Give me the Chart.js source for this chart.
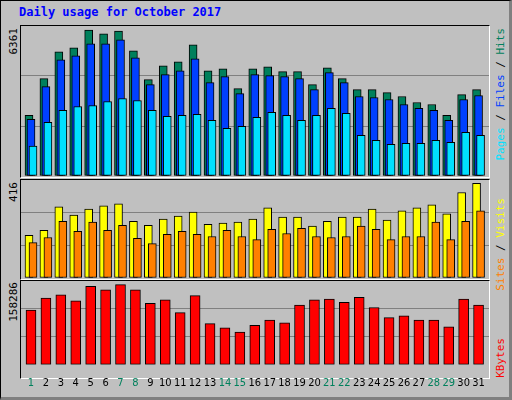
<!DOCTYPE html>
<html><head><meta charset="utf-8">
<script src="https://cdn.jsdelivr.net/npm/chart.js@4/dist/chart.umd.min.js"></script>
<style>
body{margin:0;background:#fff;}
#frame{position:absolute;left:0;top:0;width:508px;height:396px;background:#C0C0C0;border:1px solid #000;border-right:3px solid #808080;border-bottom:3px solid #808080;}
.panel{position:absolute;left:20px;width:468px;border-top:1px solid #000;border-left:1px solid #000;border-right:1px solid #fff;border-bottom:1px solid #fff;}
canvas{position:absolute;}
.t{position:absolute;font-family:"DejaVu Sans Mono",monospace;font-size:11px;white-space:nowrap;}
.v{writing-mode:vertical-rl;transform:rotate(180deg);}
</style></head><body>
<div id="frame"></div>
<div class="t" style="left:19px;top:5px;color:#0000FF;font-weight:bold;font-size:12px;">Daily usage for October 2017</div>
<div class="panel" style="top:25px;height:151px;"></div>
<div class="panel" style="top:179px;height:99px;"></div>
<div class="panel" style="top:280px;height:97px;"></div>
<div class="t v" style="left:7px;top:28px;color:#000;">6361</div>
<div class="t v" style="left:7px;top:182px;color:#000;">416</div>
<div class="t v" style="left:7px;top:282px;color:#000;">158286</div>
<div class="t v" style="left:494px;top:28px;"><span style="color:#00E0FF">Pages</span><span style="color:#000"> / </span><span style="color:#0040FF">Files</span><span style="color:#000"> / </span><span style="color:#00805C">Hits</span></div>
<div class="t v" style="left:494px;top:198px;"><span style="color:#FF8000">Sites</span><span style="color:#000"> / </span><span style="color:#FFFF00">Visits</span></div>
<div class="t v" style="left:494px;top:338px;color:#FF0000;">KBytes</div>
<canvas id="c1" style="left:21px;top:26px;width:468px;height:150px;"></canvas>
<canvas id="c2" style="left:21px;top:180px;width:468px;height:98px;"></canvas>
<canvas id="c3" style="left:21px;top:281px;width:468px;height:119px;"></canvas>
<script>
const days=[1,2,3,4,5,6,7,8,9,10,11,12,13,14,15,16,17,18,19,20,21,22,23,24,25,26,27,28,29,30,31];
const weekendDays=[1,7,8,14,15,21,22,28,29];
const hits=[2570,4128,5266,5434,6193,6024,6150,5308,4086,4676,4844,5561,4465,4550,3707,4550,4634,4423,4423,3876,4592,4128,3665,3665,3539,3370,3117,3033,2570,3454,3665];
const files=[2401,3791,4929,5097,5603,5603,5771,5013,3876,4297,4465,4971,3960,4213,3496,4297,4255,4213,4128,3665,4381,3960,3370,3328,3244,3033,2865,2780,2359,3244,3412];
const pages=[1264,2275,2780,2949,2991,3159,3286,3202,2780,2528,2570,2612,2359,2022,2106,2485,2696,2570,2359,2570,2865,2654,1727,1517,1348,1390,1390,1517,1432,1854,1727];
const visits=[181,202,302,267,293,306,315,241,224,250,263,280,228,233,237,250,298,259,259,220,241,259,259,293,246,285,298,311,272,363,402];
const sites=[150,172,241,198,237,202,224,168,146,185,198,185,176,202,176,163,207,189,211,176,172,176,220,207,163,176,176,237,163,241,285];
const kbytes=[103440,125800,132200,121000,148200,141800,151400,141800,116200,122600,98600,130600,77900,69900,61900,74700,84300,79500,113000,122600,124200,117800,127400,108200,89100,92300,84300,84300,71500,124200,113000];
const maxHits=6361, maxVisits=416, maxKB=158286;

const PX=14.92, XMIN=0.33, XMAX=31.70;
function xAxis(shift){return {type:'linear',display:false,offset:false,min:XMIN-shift/PX,max:XMAX-shift/PX};}
function ds(vals,color,axis,w){return {data:vals.map((v,i)=>({x:days[i],y:v})),backgroundColor:color,borderColor:'#000',borderWidth:1,borderSkipped:false,barThickness:w,grouped:false,xAxisID:axis};}
function yAxis(max){return {min:0,max:max,border:{display:false},ticks:{display:false,stepSize:max/3},grid:{color:c=>(c.index===1||c.index===2)?'#808080':'rgba(0,0,0,0)',lineWidth:1,drawTicks:false}};}
const base={responsive:false,animation:false,plugins:{legend:{display:false},tooltip:{enabled:false}},layout:{padding:0}};
function mk(id,h,datasets,scales,extra){
  const c=document.getElementById(id);
  c.width=468;c.height=h;
  return new Chart(c,{type:'bar',data:{datasets},options:Object.assign({},base,{scales},extra||{})});
}
function fix(id,h){const c=document.getElementById(id);c.style.width='468px';c.style.height=h+'px';}
mk('c1',150,[ds(hits,'#00805C','xh',8),ds(files,'#0040FF','xf',8),ds(pages,'#00E0FF','xp',8)].reverse().map((d,i)=>Object.assign(d,{order:i})),
  {xh:xAxis(-2),xf:xAxis(0),xp:xAxis(2),y:yAxis(maxHits)});
mk('c2',98,[ds(visits,'#FFFF00','xv',8),ds(sites,'#FF8000','xs',8)].reverse().map((d,i)=>Object.assign(d,{order:i})),
  {xv:xAxis(-2),xs:xAxis(2),y:yAxis(maxVisits)});
mk('c3',119,[ds(kbytes,'#FF0000','x',10)],
  {x:{type:'linear',offset:false,min:XMIN,max:XMAX,border:{display:false},grid:{display:false},
     afterBuildTicks:a=>{a.ticks=days.map(d=>({value:d}));},
     ticks:{autoSkip:false,maxRotation:0,padding:4,font:{family:'DejaVu Sans Condensed',size:11},
       color:c=>weekendDays.includes(c.tick.value)?'#00805C':'#000',callback:v=>String(v)}},
   y:yAxis(maxKB)},{layout:{padding:{bottom:6}}});
fix('c1',150);fix('c2',98);fix('c3',119);
</script></body></html>
